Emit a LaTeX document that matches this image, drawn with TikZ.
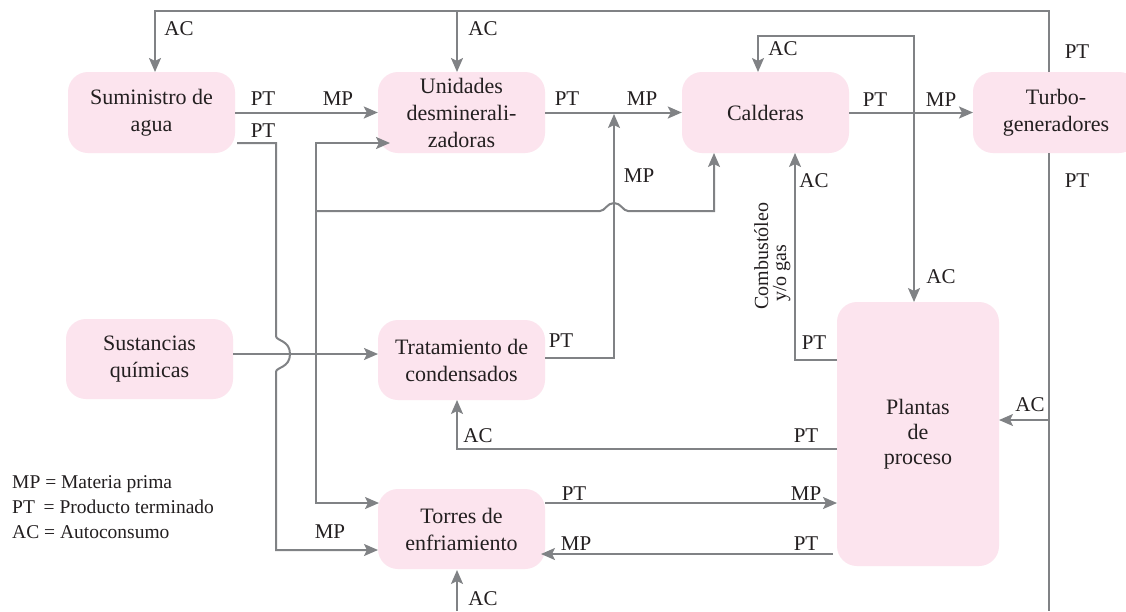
\documentclass[tikz,border=0pt]{standalone}
\usepackage{fontspec}
\setmainfont{Liberation Serif}
\usetikzlibrary{arrows.meta}
\definecolor{boxpink}{RGB}{252,228,238}
\definecolor{lngray}{RGB}{128,130,133}
\definecolor{txt}{RGB}{35,31,32}
\tikzset{
  box/.style={fill=boxpink, rounded corners=20pt, align=center, text=txt, inner sep=0pt,
    font=\fontsize{22}{27}\selectfont},
  lbl/.style={font=\fontsize{21}{25}\selectfont, text=txt, inner sep=0pt, anchor=base},
  legend/.style={font=\fontsize{19.5}{25}\selectfont, text=txt, inner sep=0pt, anchor=base west},
  ln/.style={draw=lngray, line width=2pt},
  tip/.tip={Stealth[length=14pt,width=12pt,inset=3pt]},
  arr/.style={ln, -tip},
  arrb/.style={ln, tip-tip},
}
\begin{document}
\begin{tikzpicture}[x=1pt,y=-1pt]
\useasboundingbox (0,0) rectangle (1126,611);
\clip (0,0) rectangle (1126,611);
\fill[white] (0,0) rectangle (1126,611);

% boxes
\node[box, minimum width=167pt, minimum height=81pt] (S) at (151.5,112.5) {Suministro de\\agua};
\node[box, minimum width=167pt, minimum height=81pt] (U) at (461.5,112.5) {Unidades\\desminerali-\\zadoras};
\node[box, minimum width=167pt, minimum height=81pt] (C) at (765.5,112.5) {Calderas};
\node[box, minimum width=166pt, minimum height=81pt] (T) at (1056,112.5) {Turbo-\\generadores};
\node[box, minimum width=167pt, minimum height=80pt] (Q) at (149.5,359) {Sustancias\\químicas};
\node[box, minimum width=167pt, minimum height=80pt] (D) at (461.5,360) {Tratamiento de\\condensados};
\node[box, minimum width=167pt, minimum height=80pt] (R) at (461.5,529) {Torres de\\enfriamiento};
\node[box, minimum width=162pt, minimum height=264pt, font=\fontsize{22}{25}\selectfont] (P) at (918,434) {Plantas\\de\\proceso};

% top loop from turbogeneradores
\draw[arr] (1049,72) -- (1049,11) -- (155,11) -- (155,72);
\draw[arr] (457,11) -- (457,72);
\draw[ln] (1049,153) -- (1049,611);
\draw[arr] (1049,420) -- (999,420);
\draw[arr] (457,611) -- (457,570);

% Suministro -> Unidades
\draw[arr] (S.east) -- (U.west);
% Suministro -> Torres (with jump)
\draw[arr] (237,143) -- (276,143) -- (276,336)
  .. controls (276,341) and (290,340) .. (290,354)
  .. controls (290,368) and (276,367) .. (276,372)
  -- (276,550) -- (378,550);

% Sustancias -> Tratamiento and branches
\draw[arr] (233,354) -- (378,354);
\draw[arr] (316,354) -- (316,143) -- (390,143);
\draw[arr] (316,354) -- (316,503) -- (379,503);
\draw[arr] (316,211) -- (600,211)
  .. controls (605,211) and (607,203) .. (614,203)
  .. controls (621,203) and (623,211) .. (628,211)
  -- (714,211) -- (714,153);

% Unidades -> Calderas
\draw[arr] (U.east) -- (C.west);
% Tratamiento -> Calderas line
\draw[arr] (545,358) -- (614,358) -- (614,114);
% Calderas -> Turbo
\draw[arr] (C.east) -- (973,112.5);
% AC loop Calderas / Plantas
\draw[arrb] (758,72) -- (758,36) -- (914,36) -- (914,302);
% Plantas -> Calderas
\draw[arr] (837,360) -- (795,360) -- (795,153);
% Plantas -> Tratamiento
\draw[arr] (837,449) -- (457,449) -- (457,400);
% Torres <-> Plantas
\draw[arr] (545,503) -- (837,503);
\draw[arr] (833,554) -- (541,554);

% labels
\node[lbl] (l1) at (179,35) {AC};
\node[lbl] (l2) at (483,35) {AC};
\node[lbl] (l3) at (783,55) {AC};
\node[lbl] (l4) at (263,105) {PT};
\node[lbl] (l5) at (338,105) {MP};
\node[lbl] (l6) at (263,137) {PT};
\node[lbl] (l7) at (567,105) {PT};
\node[lbl] (l8) at (642,105) {MP};
\node[lbl] (l9) at (875,106) {PT};
\node[lbl] (l10) at (941,106) {MP};
\node[lbl] (l11) at (1077,58) {PT};
\node[lbl] (l12) at (1077,187) {PT};
\node[lbl] (l13) at (814,187) {AC};
\node[lbl] (l14) at (639,182) {MP};
\node[lbl] (l15) at (561,347) {PT};
\node[lbl] (l16) at (814,349) {PT};
\node[lbl] (l17) at (941,283) {AC};
\node[lbl] (l18) at (1030,411) {AC};
\node[lbl] (l19) at (478,442) {AC};
\node[lbl] (l20) at (806,442) {PT};
\node[lbl] (l21) at (574,500) {PT};
\node[lbl] (l22) at (806,500) {MP};
\node[lbl] (l23) at (576,550) {MP};
\node[lbl] (l24) at (806,550) {PT};
\node[lbl] (l25) at (330,538) {MP};
\node[lbl] (l26) at (483,605) {AC};

% rotated label
\node[lbl, font=\fontsize{20}{24}\selectfont, rotate=90] (k1) at (768,256) {Combustóleo};
\node[lbl, font=\fontsize{20}{24}\selectfont, rotate=90] (k2) at (786,273) {y/o gas};

% legend
\node[legend] (g1) at (12,488) {MP = Materia prima};
\node[legend] (g2) at (12,513) {PT\hspace{0.45em}= Producto terminado};
\node[legend] (g3) at (12,538) {AC = Autoconsumo};
\end{tikzpicture}
\end{document}
